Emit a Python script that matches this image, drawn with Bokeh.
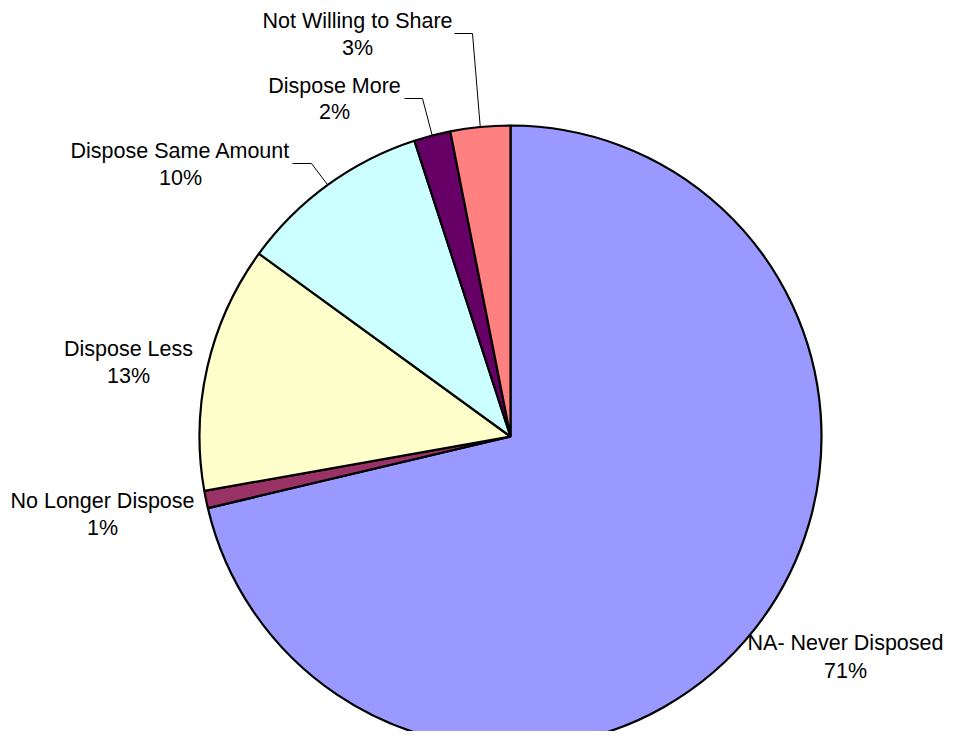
import math
from bokeh.plotting import figure
from bokeh.models import Range1d, ColumnDataSource
from bokeh.core.properties import value
from bokeh.embed import file_html
from bokeh.resources import INLINE

# ---- data ----
categories = ["NA- Never Disposed", "No Longer Dispose", "Dispose Less",
              "Dispose Same Amount", "Dispose More", "Not Willing to Share"]
shares = [71.3, 0.9, 12.8, 10.0, 1.9, 3.1]
colors = ["#9999FF", "#993366", "#FFFFCC", "#CCFFFF", "#660066", "#FF8080"]

# ---- layout (picture pixel coordinates) ----
W, H = 945, 731
CX, CY, R = 510, 436, 311
label_pos = {  # centre x, name y, percent y
    "NA- Never Disposed": (845, 642, 670),
    "No Longer Dispose": (102, 500, 527),
    "Dispose Less": (128, 348, 375),
    "Dispose Same Amount": (180, 150, 177),
    "Dispose More": (334, 85, 111),
    "Not Willing to Share": (357, 20, 47),
}
leader_elbows = {  # horizontal start, elbow
    "Dispose Same Amount": [(292, 163), (311, 163)],
    "Dispose More": [(404, 98), (422, 98)],
    "Not Willing to Share": [(454, 33), (472, 33)],
}
FONT = "Liberation Sans"
FSIZE = "21.5px"


def X(px):
    return px


def Y(py):
    return H - py


total = sum(shares)
starts, ends, mids = [], [], []
cum = 0.0
for s in shares:
    a0 = math.pi / 2 - 2 * math.pi * cum / total
    cum += s
    a1 = math.pi / 2 - 2 * math.pi * cum / total
    starts.append(a0)
    ends.append(a1)
    mids.append((a0 + a1) / 2)

p = figure(width=W, height=H, output_backend="svg", toolbar_location=None,
           x_range=Range1d(0, W), y_range=Range1d(0, H), min_border=0)
p.axis.visible = False
p.grid.visible = False
p.outline_line_color = None
p.background_fill_color = "white"

src = ColumnDataSource(dict(start=starts, end=ends, color=colors, cat=categories))
p.wedge(x=X(CX), y=Y(CY), radius=R, start_angle="start", end_angle="end",
        direction="clock", fill_color="color", line_color="black", line_width=2.2,
        source=src)

# leader lines
xs, ys = [], []
for cat, pts in leader_elbows.items():
    i = categories.index(cat)
    ex = X(CX) + R * math.cos(mids[i])
    ey = Y(CY) + R * math.sin(mids[i])
    xs.append([X(pts[0][0]), X(pts[1][0]), ex])
    ys.append([Y(pts[0][1]), Y(pts[1][1]), ey])
p.multi_line(xs, ys, line_color="#000000", line_width=1)

# labels
tx, ty, tt = [], [], []
for cat, s in zip(categories, shares):
    lx, ly1, ly2 = label_pos[cat]
    tx += [X(lx), X(lx)]
    ty += [Y(ly1), Y(ly2)]
    tt += [cat, f"{round(s / total * 100)}%"]
p.text(x=tx, y=ty, text=tt, text_align="center", text_baseline="middle",
       text_font=value(FONT), text_font_size=FSIZE, text_color="black")

open("out.html", "w").write(file_html(p, INLINE))
